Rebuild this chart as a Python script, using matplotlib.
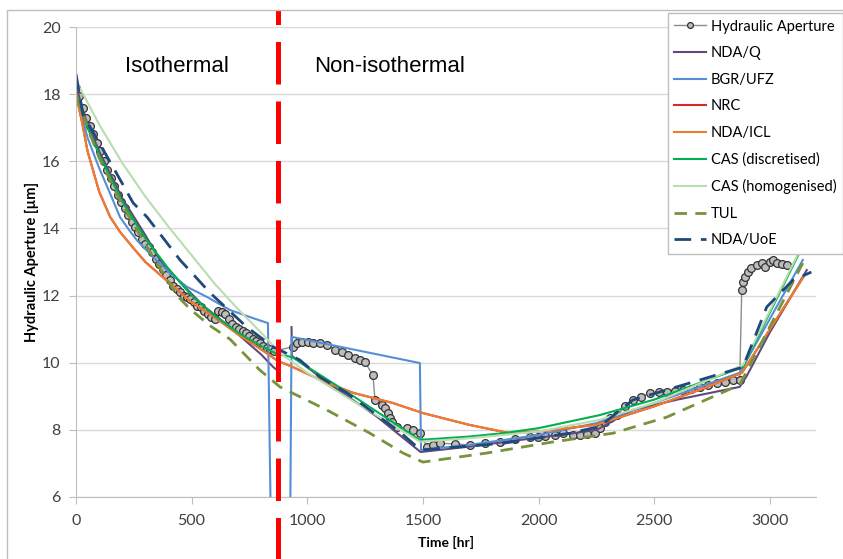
import numpy as np
import matplotlib
matplotlib.use('Agg')
from matplotlib import pyplot as plt
from matplotlib.patches import Rectangle

# measured hydraulic aperture (circles)
ha_t = [0, 15, 30, 45, 60, 75, 90, 105, 120, 135, 150, 165, 180, 195, 210, 225, 240, 255,
        270, 285, 300, 315, 330, 345, 360, 375, 390, 405, 420, 435, 450, 465, 480, 495,
        510, 525, 540, 555, 570, 585, 600, 615, 630, 645, 660, 675, 690, 705, 720, 735,
        750, 765, 780, 795, 810, 825, 840, 855,
        938, 955, 977, 1003, 1025, 1055, 1085, 1120, 1150, 1176, 1206, 1228, 1249, 1284,
        1293, 1323, 1336, 1349, 1357, 1366, 1388, 1431, 1457, 1487,
        1517, 1543, 1574, 1640, 1703, 1770, 1833, 1900, 1963, 1997, 2028, 2070, 2106, 2149,
        2178, 2209, 2244, 2265, 2287, 2309, 2339, 2375, 2408, 2445, 2482, 2520, 2555, 2590,
        2625, 2660, 2698, 2735, 2771, 2805, 2840, 2870,
        2879, 2885, 2893, 2905, 2920, 2944, 2966, 2980, 3000, 3013, 3030, 3052, 3074]
ha_y = [18.18, 17.95, 17.6, 17.3, 17.05, 16.8, 16.55, 16.3, 16.0, 15.75, 15.5, 15.25, 15.0,
        14.8, 14.6, 14.4, 14.2, 14.05, 13.9, 13.7, 13.55, 13.45, 13.3, 13.1, 12.95, 12.8,
        12.6, 12.45, 12.3, 12.2, 12.1, 12.0, 11.95, 11.9, 11.8, 11.7, 11.65, 11.55, 11.45,
        11.35, 11.3, 11.55, 11.5, 11.45, 11.3, 11.15, 11.05, 11.0, 10.95, 10.9, 10.8, 10.7,
        10.65, 10.6, 10.5, 10.45, 10.4, 10.35,
        10.47, 10.58, 10.62, 10.62, 10.59, 10.58, 10.53, 10.38, 10.32, 10.23, 10.14, 10.08,
        10.02, 9.63,
        8.89, 8.74, 8.65, 8.5, 8.35, 8.23, 8.08, 8.05, 8.0, 7.9,
        7.5, 7.55, 7.6, 7.58, 7.55, 7.6, 7.64, 7.72, 7.79, 7.79, 7.82, 7.86, 7.9, 7.85,
        7.86, 7.88, 7.9, 8.06, 8.23, 8.35, 8.44, 8.7, 8.89, 8.98, 9.1, 9.12, 9.13, 9.16,
        9.19, 9.23, 9.28, 9.34, 9.4, 9.44, 9.48, 9.48,
        12.17, 12.4, 12.55, 12.7, 12.82, 12.9, 12.97, 12.85, 13.0, 13.06, 12.97, 12.94, 12.91]

ndaq_t = [0, 25, 50, 100, 150, 200, 300, 363, 450, 550, 666, 750, 800, 853, 875, 900,
          932, 934, 1100, 1300, 1490, 1700, 1920, 2100, 2252, 2408, 2600, 2870, 2900, 3000, 3160]
ndaq_y = [18.3, 17.6, 17.1, 16.3, 15.6, 14.9, 13.8, 13.06, 12.4, 11.7, 11.06, 10.55, 10.25,
          9.87, 9.75, np.nan, 11.06, 10.2, 9.35, 8.4, 7.34, 7.5, 7.7, 7.85, 8.0, 8.59, 8.9,
          9.28, 9.6, 10.9, 12.76]

bgr_t = [0, 20, 50, 100, 150, 190, 230, 263, 333, 406, 480, 566, 666, 765, 830, 845, 925,
         932, 1487, 1492, 1700, 2000, 2250, 2500, 2870, 3143]
bgr_y = [18.0, 17.5, 16.7, 15.8, 15.0, 14.34, 13.95, 13.65, 13.15, 12.67, 12.26, 11.96,
         11.57, 11.33, 11.18, 4.0, 4.0, 10.77, 9.99, 7.4, 7.55, 7.85, 8.2, 8.8, 9.7, 13.06]

nrc_t = [0, 25, 50, 100, 147, 190, 250, 300, 400, 500, 600, 700, 800, 873, 938, 1085, 1200,
         1370, 1500, 1700, 1876, 2000, 2250, 2500, 2700, 2880, 3150]
nrc_y = [18.0, 17.2, 16.3, 15.1, 14.35, 13.9, 13.4, 13.0, 12.4, 11.8, 11.35, 10.85, 10.4,
         10.05, 9.87, 9.4, 9.1, 8.8, 8.5, 8.15, 7.9, 7.95, 8.15, 8.7, 9.2, 9.7, 12.6]

icl_t = [0, 25, 50, 100, 147, 190, 250, 300, 400, 500, 600, 700, 800, 873, 938, 1085, 1200,
         1370, 1500, 1700, 1876, 2000, 2250, 2500, 2700, 2880, 3150]
icl_y = [18.0, 17.2, 16.3, 15.1, 14.35, 13.9, 13.4, 13.0, 12.4, 11.8, 11.35, 10.85, 10.4,
         10.05, 9.87, 9.4, 9.1, 8.8, 8.5, 8.15, 7.9, 7.95, 8.15, 8.7, 9.2, 9.7, 12.6]

casd_t = [0, 50, 100, 200, 300, 400, 500, 600, 700, 800, 873, 934, 1200, 1487, 1700, 1846,
          2000, 2265, 2500, 2884, 3130]
casd_y = [18.0, 17.0, 16.2, 14.8, 13.7, 12.8, 12.0, 11.4, 10.9, 10.5, 10.25, 10.17, 9.0,
          7.7, 7.8, 7.9, 8.05, 8.44, 8.9, 9.87, 13.3]

cash_t = [0, 100, 200, 300, 400, 500, 600, 700, 800, 880, 1000, 1200, 1487, 1700, 2000,
          2265, 2500, 2884, 3130]
cash_y = [18.4, 17.1, 15.95, 14.95, 14.05, 13.2, 12.35, 11.6, 10.9, 10.3, 9.7, 8.85, 7.65,
          7.75, 7.95, 8.3, 8.8, 9.93, 13.35]

tul_t = [0, 50, 100, 200, 333, 437, 493, 580, 666, 795, 882, 1085, 1271, 1414, 1500, 1777,
         2062, 2322, 2555, 2870, 3143]
tul_y = [18.0, 17.0, 16.1, 14.7, 13.15, 12.0, 11.6, 11.1, 10.7, 9.78, 9.28, 8.59, 7.9, 7.31,
         7.04, 7.31, 7.64, 7.9, 8.38, 9.34, 12.97]

uoe_t = [0, 30, 160, 247, 307, 450, 580, 739, 853, 925, 968, 1055, 1171, 1271, 1400, 1490,
         1846, 2135, 2265, 2408, 2598, 2884, 2987, 3100, 3180]
uoe_y = [18.6, 17.4, 15.83, 14.76, 14.34, 13.06, 12.08, 11.06, 10.47, 10.23, 10.08, 9.57,
         9.1, 8.59, 7.94, 7.4, 7.6, 7.9, 8.1, 8.89, 9.28, 9.87, 11.66, 12.46, 12.7]

split_time = 873
x_ticks = [0, 500, 1000, 1500, 2000, 2500, 3000]
y_ticks = [6, 8, 10, 12, 14, 16, 18, 20]

ui_font = 'Lato'

fig = plt.figure(figsize=(8.43, 5.59), dpi=100)
ax = fig.add_axes([76 / 843, 1 - 497 / 559, (816 - 76) / 843, (497 - 27) / 559])

# outer chart frame
fig.patches.append(Rectangle((7 / 843, -0.05), 1.1, 1 - 10 / 559 + 0.05,
                             transform=fig.transFigure, fill=False,
                             edgecolor='#BFBFBF', lw=1.0))

ax.plot(ha_t, ha_y, color='#8C8C8C', lw=1.0, marker='o', ms=5.6, mfc='#BDBDBD',
        mec='#333333', mew=0.9, label='Hydraulic Aperture')
ax.plot(ndaq_t, ndaq_y, color='#604A7B', lw=1.5, label='NDA/Q')
ax.plot(bgr_t, bgr_y, color='#558ED5', lw=1.5, label='BGR/UFZ')
ax.plot(nrc_t, nrc_y, color='#D42A2A', lw=1.5, label='NRC')
ax.plot(icl_t, icl_y, color='#ED7D31', lw=1.5, label='NDA/ICL')
ax.plot(casd_t, casd_y, color='#00B050', lw=1.5, label='CAS (discretised)')
ax.plot(cash_t, cash_y, color='#B9DDB0', lw=1.5, label='CAS (homogenised)')
ax.plot(tul_t, tul_y, color='#77933C', lw=2.0, dashes=(4.5, 3), label='TUL')
ax.plot(uoe_t, uoe_y, color='#1F497D', lw=2.0, dashes=(6, 3.5), label='NDA/UoE')

# isothermal / non-isothermal boundary
ax.axvline(split_time, ymin=-0.135, ymax=1.037, color='#FF0000', lw=3.6,
           dashes=(8.5, 3.4), clip_on=False, zorder=10)

ax.text(0.1365, 0.915, 'Isothermal', transform=ax.transAxes, fontsize=16,
        family='Liberation Sans', ha='center', va='center')
ax.text(0.4243, 0.915, 'Non-isothermal', transform=ax.transAxes, fontsize=16,
        family='Liberation Sans', ha='center', va='center')

ax.set_xlim(0, 3200)
ax.set_ylim(6, 20)
ax.set_xticks(x_ticks)
ax.set_yticks(y_ticks)
ax.grid(axis='y', color='#D9D9D9', lw=1.0)
ax.set_axisbelow(True)
for s in ['top', 'right']:
    ax.spines[s].set_visible(False)
for s in ['left', 'bottom']:
    ax.spines[s].set_color('#BFBFBF')
ax.tick_params(colors='#BFBFBF', length=5, labelcolor='#404040', labelsize=11.5)
ax.tick_params(axis='x', pad=7)
ax.tick_params(axis='y', pad=6)
for lab in ax.get_xticklabels() + ax.get_yticklabels():
    lab.set_family(ui_font)

ax.set_xlabel('Time [hr]', fontsize=10, fontweight='bold', family=ui_font, labelpad=6)
ax.set_ylabel('Hydraulic Aperture [µm]', fontsize=10.5, fontweight='bold', family=ui_font)
ax.yaxis.set_label_coords(-0.05, 0.5)

leg = ax.legend(loc='upper right', bbox_to_anchor=(1.0, 1 - 13 / 559),
                bbox_transform=fig.transFigure, borderaxespad=0, fancybox=False,
                edgecolor='#BFBFBF', framealpha=1, prop={'family': ui_font, 'size': 10.5},
                handlelength=2.2, handletextpad=0.3, labelspacing=0.86, borderpad=0.45,
                markerscale=0.75)
leg.get_frame().set_linewidth(1.0)
leg.set_zorder(20)

fig.savefig('out.png', dpi=100)
